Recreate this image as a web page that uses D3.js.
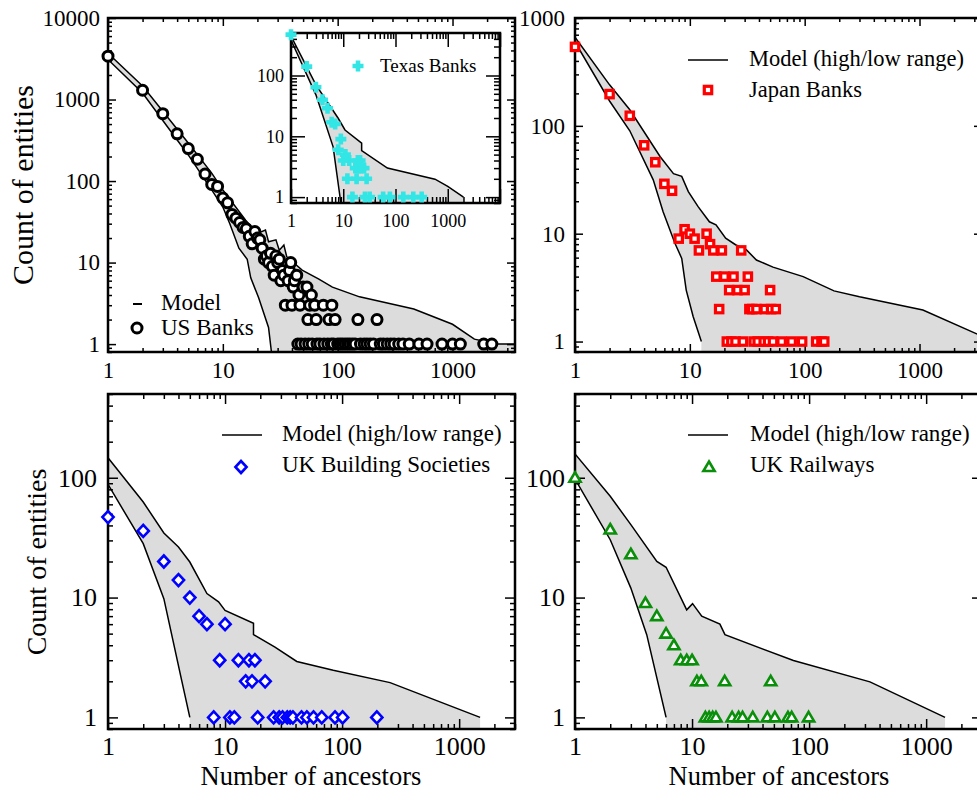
<!DOCTYPE html>
<html><head><meta charset="utf-8">
<script src="https://cdn.jsdelivr.net/npm/d3@7"></script>
<style>
body{margin:0;background:#fff;}
svg{display:block;}
svg text{font-family:"Liberation Serif","Times New Roman","DejaVu Serif",serif !important;}
</style>
</head><body>
<svg id="c" width="977" height="792"></svg>
<script>
// ---------------- DATA ----------------
const usBanksX = [1,2,3,4,5,6,7,8,9,10,11,12,13,14,15,16,17,18,19,20,21,22,23,24,25,26,27,28,29,30,31,32,33,34,35,
  37,38,39,40,41,42,44,45,46,47,48,50,52,54,55,56,57,59,60,63,65,66,70,75,76,82,84,88,89,92,95,
  100,105,110,116,122,128,135,142,150,158,170,180,192,205,220,235,250,270,290,310,340,370,420,510,600,810,1000,1170,1870,2200];
const usBanksY = [3400,1300,670,380,250,185,122,91,86,62,54,39,35,31,27,26,21,17,24,20,19,15,11,12,10,13,9,7,12,10,11,6,8,7,3,
  6,8,10,3,5,6,7,1,4,3,1,5,1,5,2,1,3,4,1,3,2,1,1,3,1,1,2,1,3,1,2,
  1,1,1,1,1,1,1,1,2,1,1,1,1,1,2,1,1,1,1,1,1,1,1,1,1,1,1,1,1,1];
const usModelHighX = [1,2,5,8,10,15.8,20,23.5,25,29,31,34,36,49,68,90,155,330,460,1000,1550,2450,3500];
const usModelHighY = [3700,1465,293,125,78,33,22.8,25,18,19,14.2,16.4,11.8,8.1,6.3,5,3.8,3.0,2.7,1.75,1.15,1.0,1.0];
const usModelLowX = [1,2,5,8,10,11.5,13.8,16.3,17.5,20.5,25,26.5];
const usModelLowY = [3100,1200,209,78,48,30,15,11,6.5,3.7,1.6,0];

const texasX = [1,2,3,4,5,6,7,8,9,10,11,12,13,15,17,18,19,20,21,22,25,26,28,32,58,78,141,219,317];
const texasY = [470,140,64,40,29,17,16,6,9,4,5,2,4,1,3,2,4,3,4,3,3,1,2,1,1,1,1,1,1];
const texasModelHighX = [1,3,8,10.8,22.5,22.5,70,570,1000,2000];
const texasModelHighY = [446,70,19.8,12.7,7.7,5.8,3.0,1.97,1.5,1.0];
const texasModelLowX = [1,3,6.4,9];
const texasModelLowY = [384,48,6.7,0];

const japanX = [1,2,3,4,5,6,7,8,9,10,11,12,14,15,16,17,18,19,20,21,22,23,24,25,26,28,29,30,32,33,35,36,38,39,44,45,48,50,51,53,56,63,77,95,126,140,148];
const japanY = [540,197,124,66,46,29,25,9,11,10,9,7,10,8,7,4,2,7,4,1,3,1,4,1,3,7,1,3,4,2,2,1,2,1,1,2,1,3,2,1,2,1,1,1,1,1,1];
const japanModelHighX = [1,2,3,5.5,7.2,8.5,9.7,11.8,14.8,16.9,20.5,25,31,38,53,97,180,300,1070,3500];
const japanModelHighY = [665,240,141,52,36,34,24.6,17.8,12.9,12.1,9.1,7.9,7.1,5.7,4.9,4.0,2.95,2.6,1.96,1.12];
const japanModelLowX = [1,2,3,4.8,5.85,7.4,8.5,9.3,10.7,12.6];
const japanModelLowY = [600,170,90,31.6,16,8.2,5.9,3.0,1.7,1.0];

const ukbsX = [1,2,3,4,5,6,7,8,9,10,11,12,13,15,16,17,18,19,22,26,29,31,34,36,38,45,50,57,67,87,101,198];
const ukbsY = [47,36,20,14,10,7,6,1,3,6,1,1,3,2,3,2,3,1,2,1,1,1,1,1,1,1,1,1,1,1,1,1];
const ukbsModelHighX = [1,2,3,4,5,7,8.8,10,17.5,17.5,26.7,41,84,257,1510];
const ukbsModelHighY = [147,62.7,34.6,26.4,19.8,10.8,9.2,7.8,6.1,4.9,3.86,2.93,2.47,1.95,1.0];
const ukbsModelLowX = [1,2,3,4.26,5];
const ukbsModelLowY = [88,28.2,9.8,2.04,1.0];

const ukrailX = [1,2,3,4,5,6,7,8,9,10,11,12,13,14,15,16,19,22,25,27,33,44,47,51,66,71,99];
const ukrailY = [100,37,23,9,7,5,4,3,3,3,2,2,1,1,1,1,2,1,1,1,1,1,2,1,1,1,1];
const ukrailModelHighX = [1,2,3,5,6,9,10.1,12.1,17.3,19.1,73.5,331,1450];
const ukrailModelHighY = [158,70,40.6,20,17.9,7.9,8.9,7.0,6.0,4.9,2.98,1.98,1.0];
const ukrailModelLowX = [1,2,3,4.1,6];
const ukrailModelLowY = [97.5,30.4,12,4.9,1.0];

const xTickLabelsMain = [1,10,100,1000];
const yTickLabelsUS = [1,10,100,1000,10000];
const yTickLabelsJapan = [1,10,100,1000];
const yTickLabelsBottom = [1,10,100];
const xTickLabelsInset = [1,10,100,1000];
const yTickLabelsInset = [1,10,100];

const legendModelShort = "Model";
const legendModelRange = "Model (high/low range)";
const yTitle = "Count of entities";
const xTitle = "Number of ancestors";

// ---------------- DRAWING ----------------
const FONT = "Liberation Serif";
const FILL = "#dcdcdc";
const svg = d3.select("#c");

function zip(a, b) { return a.map((v, i) => [v, b[i]]); }

function logTicks(dom) {
  const major = [], minor = [];
  const lo = Math.floor(Math.log10(dom[0])), hi = Math.ceil(Math.log10(dom[1]));
  for (let k = lo; k <= hi; k++) {
    for (let m = 1; m <= 9; m++) {
      const v = +(m * Math.pow(10, k)).toPrecision(6);
      if (v < dom[0] * 0.9999 || v > dom[1] * 1.0001) continue;
      (m === 1 ? major : minor).push(v);
    }
  }
  return { major, minor };
}

let clipId = 0;
function panel(o) {
  const g = svg.append("g");
  const x = d3.scaleLog().domain(o.xDomain).range([o.left, o.right]).clamp(true);
  const y = d3.scaleLog().domain(o.yDomain).range([o.bottom, o.top]).clamp(true);
  const id = "clip" + (clipId++);
  g.append("clipPath").attr("id", id).append("rect")
    .attr("x", o.left).attr("y", o.top).attr("width", o.right - o.left).attr("height", o.bottom - o.top);
  if (o.background) {
    g.append("rect").attr("x", o.left).attr("y", o.top).attr("width", o.right - o.left)
      .attr("height", o.bottom - o.top).attr("fill", "#fff");
  }
  const body = g.append("g").attr("clip-path", `url(#${id})`);
  const hi = zip(o.hiX, o.hiY), lo = zip(o.loX, o.loY);
  const poly = hi.map(d => [x(d[0]), y(d[1])]);
  poly.push([x(hi[hi.length - 1][0]), o.bottom + 5]);
  poly.push([x(lo[lo.length - 1][0]), o.bottom + 5]);
  for (let i = lo.length - 1; i >= 0; i--) poly.push([x(lo[i][0]), y(lo[i][1])]);
  body.append("path").attr("d", d3.line()(poly) + "Z").attr("fill", FILL).attr("stroke", "none");
  const line = d3.line().x(d => x(d[0])).y(d => y(d[1]));
  body.append("path").attr("d", line(hi)).attr("fill", "none").attr("stroke", "#000").attr("stroke-width", 1.5);
  body.append("path").attr("d", line(lo)).attr("fill", "none").attr("stroke", "#000").attr("stroke-width", 1.5);

  const xt = logTicks(o.xDomain), yt = logTicks(o.yDomain);
  const styleAxis = sel => {
    sel.select(".domain").remove();
    sel.attr("font-family", FONT).attr("font-size", o.fs);
    sel.selectAll("line").attr("stroke", "#000").attr("stroke-width", 1.5);
    sel.selectAll("text").attr("fill", "#000");
  };
  const fmt = labels => d => labels.includes(d) ? String(d) : "";
  const mk = (axisFn, scale, pos, vals, len, labels, pad) => {
    const a = axisFn(scale).tickValues(vals).tickSizeInner(-len).tickSizeOuter(0)
      .tickPadding(pad || 0).tickFormat(labels ? fmt(labels) : () => "");
    g.append("g").attr("transform", pos).call(a).call(styleAxis);
  };
  mk(d3.axisBottom, x, `translate(0,${o.bottom})`, xt.minor, o.minorLen);
  mk(d3.axisBottom, x, `translate(0,${o.bottom})`, xt.major, o.majorLen, o.xLabels, o.xPad);
  mk(d3.axisTop, x, `translate(0,${o.top})`, xt.minor, o.minorLen);
  mk(d3.axisTop, x, `translate(0,${o.top})`, xt.major, o.majorLen);
  mk(d3.axisLeft, y, `translate(${o.left},0)`, yt.minor, o.minorLen);
  mk(d3.axisLeft, y, `translate(${o.left},0)`, yt.major, o.majorLen, o.yLabels, o.yPad);
  mk(d3.axisRight, y, `translate(${o.right},0)`, yt.minor, o.minorLen);
  mk(d3.axisRight, y, `translate(${o.right},0)`, yt.major, o.majorLen);

  g.append("rect").attr("x", o.left).attr("y", o.top).attr("width", o.right - o.left)
    .attr("height", o.bottom - o.top).attr("fill", "none").attr("stroke", "#000").attr("stroke-width", 2.5);

  const pts = zip(o.dataX, o.dataY);
  const mg = g.append("g");
  pts.forEach(d => o.marker(mg, x(d[0]), y(d[1])));
  return { g, x, y };
}

function circleM(g, cx, cy) {
  g.append("circle").attr("cx", cx).attr("cy", cy).attr("r", 5)
    .attr("fill", "#fff").attr("stroke", "#000").attr("stroke-width", 3);
}
function squareM(g, cx, cy) {
  g.append("rect").attr("x", cx - 3.7).attr("y", cy - 3.7).attr("width", 7.4).attr("height", 7.4)
    .attr("fill", "#fff").attr("stroke", "#ff0000").attr("stroke-width", 3.2);
}
function diamondM(g, cx, cy) {
  g.append("path").attr("d", `M${cx},${cy - 6}L${cx + 5.6},${cy}L${cx},${cy + 6}L${cx - 5.6},${cy}Z`)
    .attr("fill", "#fff").attr("stroke", "#0000ff").attr("stroke-width", 2.6);
}
function triangleM(g, cx, cy) {
  g.append("path").attr("d", `M${cx},${cy - 5.5}L${cx + 5.6},${cy + 4}L${cx - 5.6},${cy + 4}Z`)
    .attr("fill", "#fff").attr("stroke", "#0a8f0a").attr("stroke-width", 2.6);
}
function crossM(g, cx, cy) {
  const a = 5.5, w = 2.3;
  g.append("path").attr("d",
    `M${cx - w},${cy - a}H${cx + w}V${cy - w}H${cx + a}V${cy + w}H${cx + w}V${cy + a}H${cx - w}V${cy + w}H${cx - a}V${cy - w}H${cx - w}Z`)
    .attr("fill", "#33e6e6");
}

function text(t, x, y, fs, anchor, rot) {
  const s = svg.append("text").text(t).attr("font-family", FONT).attr("font-size", fs).attr("fill", "#000")
    .attr("text-anchor", anchor || "start");
  if (rot) s.attr("transform", `translate(${x},${y}) rotate(${rot})`);
  else s.attr("x", x).attr("y", y);
  return s;
}

// ---- Panel 1: US banks ----
panel({
  left: 108, right: 515, top: 18, bottom: 352,
  xDomain: [1, 3500], yDomain: [0.8, 10000],
  majorLen: 8, minorLen: 4, fs: 23, xPad: 10, yPad: 8,
  xLabels: xTickLabelsMain, yLabels: yTickLabelsUS,
  hiX: usModelHighX, hiY: usModelHighY, loX: usModelLowX, loY: usModelLowY,
  dataX: usBanksX, dataY: usBanksY, marker: circleM
});
svg.append("line").attr("x1", 133).attr("x2", 142).attr("y1", 304).attr("y2", 304).attr("stroke", "#000").attr("stroke-width", 2);
text(legendModelShort, 161, 310, 23);
circleM(svg, 137, 328);
text("US Banks", 161, 335, 23);

// ---- Inset: Texas banks ----
panel({
  left: 291, right: 500, top: 33, bottom: 203, background: true,
  xDomain: [1, 10000], yDomain: [0.8, 500],
  majorLen: 14, minorLen: 6, fs: 18, xPad: 11, yPad: 7,
  xLabels: xTickLabelsInset, yLabels: yTickLabelsInset,
  hiX: texasModelHighX, hiY: texasModelHighY, loX: texasModelLowX, loY: texasModelLowY,
  dataX: texasX, dataY: texasY, marker: crossM
});
crossM(svg, 358, 66);
text("Texas Banks", 380, 72, 19);

// ---- Panel 2: Japan banks ----
panel({
  left: 575, right: 982, top: 18, bottom: 352,
  xDomain: [1, 3500], yDomain: [0.8, 1000],
  majorLen: 8, minorLen: 4, fs: 23, xPad: 10, yPad: 10,
  xLabels: xTickLabelsMain, yLabels: yTickLabelsJapan,
  hiX: japanModelHighX, hiY: japanModelHighY, loX: japanModelLowX, loY: japanModelLowY,
  dataX: japanX, dataY: japanY, marker: squareM
});
svg.append("line").attr("x1", 688).attr("x2", 728).attr("y1", 60).attr("y2", 60).attr("stroke", "#000").attr("stroke-width", 1.5);
text(legendModelRange, 749, 66, 22.5);
squareM(svg, 708, 90);
text("Japan Banks", 749, 97, 22.5);

// ---- Panel 3: UK building societies ----
panel({
  left: 108, right: 515, top: 394, bottom: 729,
  xDomain: [1, 3000], yDomain: [0.8, 500],
  majorLen: 10, minorLen: 5, fs: 26, xPad: 8, yPad: 11,
  xLabels: xTickLabelsMain, yLabels: yTickLabelsBottom,
  hiX: ukbsModelHighX, hiY: ukbsModelHighY, loX: ukbsModelLowX, loY: ukbsModelLowY,
  dataX: ukbsX, dataY: ukbsY, marker: diamondM
});
svg.append("line").attr("x1", 222).attr("x2", 262).attr("y1", 435).attr("y2", 435).attr("stroke", "#000").attr("stroke-width", 1.5);
text(legendModelRange, 282, 441, 23);
diamondM(svg, 241, 467);
text("UK Building Societies", 282, 472, 23);

// ---- Panel 4: UK railways ----
panel({
  left: 575, right: 982, top: 394, bottom: 729,
  xDomain: [1, 3000], yDomain: [0.8, 500],
  majorLen: 10, minorLen: 5, fs: 26, xPad: 8, yPad: 10,
  xLabels: xTickLabelsMain, yLabels: yTickLabelsBottom,
  hiX: ukrailModelHighX, hiY: ukrailModelHighY, loX: ukrailModelLowX, loY: ukrailModelLowY,
  dataX: ukrailX, dataY: ukrailY, marker: triangleM
});
svg.append("line").attr("x1", 688).attr("x2", 728).attr("y1", 435).attr("y2", 435).attr("stroke", "#000").attr("stroke-width", 1.5);
text(legendModelRange, 750, 441, 23);
triangleM(svg, 709, 467);
text("UK Railways", 750, 472, 23);

text(yTitle, 33, 185, 30, "middle", -90);
text(yTitle, 46, 562, 28, "middle", -90);
text(xTitle, 311, 785, 26.5, "middle");
text(xTitle, 779, 785, 26.5, "middle");
</script>
</body></html>
